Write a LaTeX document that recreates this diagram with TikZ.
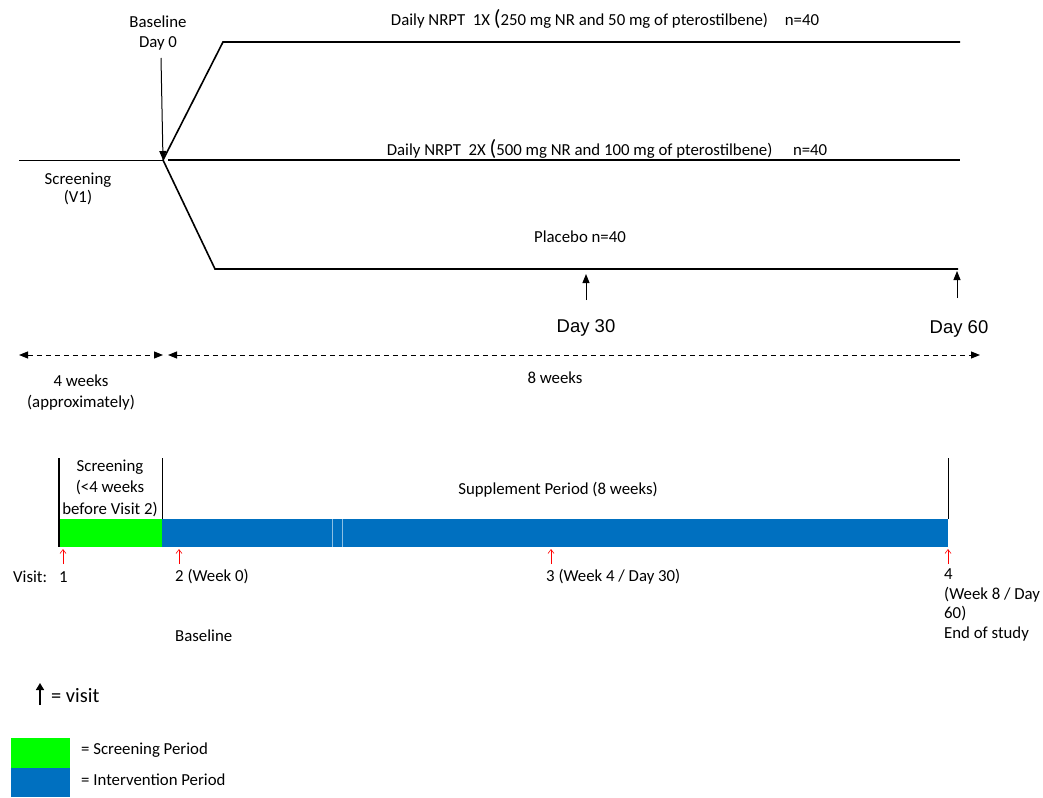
\documentclass[tikz,border=0pt]{standalone}
\usepackage{fontspec}
\setmainfont{Carlito}
\newfontfamily\arialfont{Liberation Sans}
\usetikzlibrary{arrows.meta}
\definecolor{scrgreen}{RGB}{0,255,0}
\definecolor{intblue}{RGB}{0,112,192}

\begin{document}
\begin{tikzpicture}[x=1pt, y=-1pt,
    txt/.style={inner sep=0pt, font=\fontsize{16.8}{20}\selectfont, align=center},
    daytxt/.style={inner sep=0pt, font=\arialfont\fontsize{18.5}{20}\selectfont},
    arm/.style={line width=1.6pt},
    blackarrow/.style={line width=1pt, -{Triangle[width=7pt, length=9pt]}},
    spanarrow/.style={line width=1pt, dashed, dash pattern=on 5pt off 4pt, {Triangle[width=7pt, length=9pt]}-{Triangle[width=7pt, length=9pt]}},
    visitarrow/.style={red, line width=0.6pt, -{Straight Barb[length=4pt, width=6pt]}}]
    \useasboundingbox (0,0) rectangle (1043,797);

    % study arms
    \coordinate (v1) at (19,160);
    \coordinate (split) at (163,160);
    \coordinate (top1) at (223,42);
    \coordinate (top2) at (960,42);
    \coordinate (mid1) at (168,160);
    \coordinate (mid2) at (960,160);
    \coordinate (bot1) at (215,269);
    \coordinate (bot2) at (958,269);

    \draw[line width=1pt] (v1) -- (split);
    \draw[arm] (split) -- (top1) -- (top2);
    \draw[line width=1.3pt] (mid1) -- (mid2);
    \draw[arm] (split) -- (bot1) -- (bot2);

    \node[txt] (baseline) at (158,33) {Baseline\\Day 0};
    \coordinate (bltip) at (161,58);
    \draw[blackarrow] (bltip) -- (split);

    \node[txt, font=\fontsize{16.8}{18.5}\selectfont] (screen) at (78,189) {Screening\\(V1)};
    \node[txt] (arm1) at (605,19) {Daily NRPT\ \ 1X {\fontsize{22}{22}\selectfont(}250 mg NR and 50 mg of pterostilbene)\quad n=40};
    \node[txt] (arm2) at (607,149) {Daily NRPT\ \ 2X {\fontsize{22}{22}\selectfont(}500 mg NR and 100 mg of pterostilbene)\quad\ n=40};
    \node[txt] (placebo) at (580,237) {Placebo n=40};

    % day markers
    \coordinate (d30a) at (586,300);
    \coordinate (d30b) at (586,274);
    \coordinate (d60a) at (957,298);
    \coordinate (d60b) at (957,271);
    \draw[blackarrow] (d30a) -- (d30b);
    \draw[blackarrow] (d60a) -- (d60b);
    \node[daytxt] (day30) at (586,328) {Day 30};
    \node[daytxt] (day60) at (959,329) {Day 60};

    % durations
    \coordinate (s1) at (19,355);
    \coordinate (s2) at (163,355);
    \coordinate (s3) at (168,355);
    \coordinate (s4) at (980,355);
    \draw[spanarrow] (s1) -- (s2);
    \draw[spanarrow] (s3) -- (s4);
    \node[txt, font=\fontsize{16.8}{21}\selectfont] (fourwk) at (81,393) {4 weeks\\(approximately)};
    \node[txt] (eightwk) at (555,378) {8 weeks};

    % timeline
    \fill[scrgreen] (59,519) rectangle (162,547);
    \fill[intblue] (162,519) rectangle (948,547);
    \draw[white!55!intblue, line width=0.5pt] (332,519) -- (332,547) (342,519) -- (342,547);
    \draw[line width=1.5pt] (59,458) -- (59,547);
    \draw[line width=0.8pt] (162,458) -- (162,519);
    \draw[line width=0.8pt] (948,458) -- (948,519);
    \node[txt, font=\fontsize{16.8}{21.5}\selectfont] (scrper) at (110,488) {Screening\\(<4 weeks\\before Visit 2)};
    \node[txt] (supper) at (558,490) {Supplement Period (8 weeks)};

    % visits
    \foreach \vx/\vn in {63/one, 179/two, 551/three, 948/four} {
        \coordinate (\vn a) at (\vx,564);
        \coordinate (\vn b) at (\vx,549);
        \draw[visitarrow] (\vn a) -- (\vn b);
    }
    \node[txt, anchor=west] (visit) at (13,577) {Visit:};
    \node[txt, anchor=west] (vone) at (59,577) {1};
    \node[txt, anchor=west] (vtwo) at (175,577) {2 (Week 0)};
    \node[txt, anchor=west] (vthree) at (546,577) {3 (Week 4 / Day 30)};
    \node[txt, anchor=north west, align=left, font=\fontsize{16.8}{19.5}\selectfont] (vfour) at (944,569) {4\\(Week 8 / Day\\60)\\End of study};
    \node[txt, anchor=west] (vbase) at (175,636) {Baseline};

    % legend
    \coordinate (lga) at (40,705);
    \coordinate (lgb) at (40,683);
    \draw[line width=1.5pt, -{Triangle[width=8pt, length=7pt]}] (lga) -- (lgb);
    \node[txt, anchor=west, font=\fontsize{20.4}{22}\selectfont] (lgvisit) at (51,696) {= visit};
    \fill[scrgreen] (11,738) rectangle (70,768);
    \fill[intblue] (11,768) rectangle (70,797);
    \node[txt, anchor=west] (lgscr) at (81,750) {= Screening Period};
    \node[txt, anchor=west] (lgint) at (81,780) {= Intervention Period};
\end{tikzpicture}
\end{document}
